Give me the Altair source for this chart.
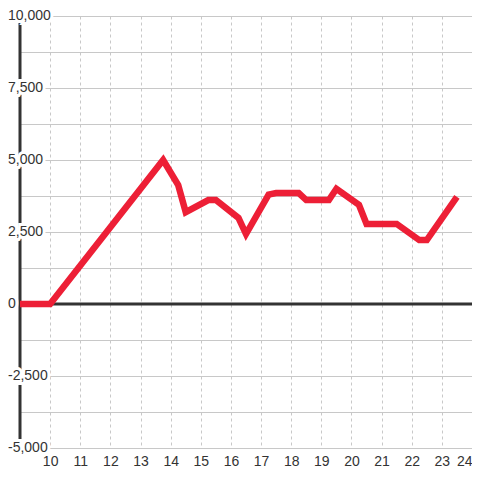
import altair as alt
import pandas as pd

# ---- data ----
hours = [9, 10, 13.75, 14.25, 14.5, 15.25, 15.5, 16.25, 16.5, 17.25, 17.5,
         18.25, 18.5, 19.25, 19.5, 20.25, 20.5, 21.5, 22.25, 22.5, 23.5]
values = [0, 0, 5000, 4130, 3190, 3610, 3610, 2990, 2430, 3800, 3850,
          3850, 3610, 3610, 4000, 3440, 2780, 2780, 2220, 2220, 3720]

x_ticks = list(range(10, 25))
y_grid = [-5000, -3750, -2500, -1250, 0, 1250, 2500, 3750, 5000,
          6250, 7500, 8750, 10000]
y_label_values = [10000, 7500, 5000, 2500, 0, -2500, -5000]
y_label_texts = ["10,000", "7,500", "5,000", "2,500", "0", "-2,500", "-5,000"]

RED = "#ed1f36"
DARK = "#333333"
GRID = "#c8c8c8"
FONT = "Liberation Sans"

df = pd.DataFrame({"t": hours, "v": values})
labels_df = pd.DataFrame({"v": y_label_values, "label": y_label_texts})

xs = alt.Scale(domain=[9, 24], nice=False, zero=False)
ys = alt.Scale(domain=[-5000, 10000], nice=False, zero=False)

x_axis = alt.Axis(values=x_ticks, grid=True, gridColor=GRID, gridDash=[3, 3],
                  gridWidth=1, domain=False, ticks=False, labelFontSize=14,
                  labelColor=DARK, labelFont=FONT, labelPadding=6, title=None,
                  labelFlush=True, labelOverlap=False)
y_axis = alt.Axis(values=y_grid, grid=True, gridColor=GRID, gridWidth=1,
                  domain=False, ticks=False, labels=False, title=None)

line = alt.Chart(df).mark_line(
    color=RED, strokeWidth=6.5, strokeJoin="miter", strokeCap="butt"
).encode(
    x=alt.X("t:Q", scale=xs, axis=x_axis),
    y=alt.Y("v:Q", scale=ys, axis=y_axis),
)

zero_rule = alt.Chart(pd.DataFrame({"v": [0]})).mark_rule(
    color=DARK, strokeWidth=3
).encode(y=alt.Y("v:Q", scale=ys, axis=y_axis))

yaxis_rule = alt.Chart(pd.DataFrame({"t": [9], "v": [-5000], "hi": [10000]})).mark_rule(
    color=DARK, strokeWidth=3
).encode(
    x=alt.X("t:Q", scale=xs, axis=x_axis),
    y=alt.Y("v:Q", scale=ys, axis=y_axis),
    y2="hi:Q",
)

label_bg = alt.Chart(labels_df).mark_text(
    align="left", baseline="middle", fontSize=14, font=FONT,
    fill="white", stroke="white", strokeWidth=6
).encode(
    x=alt.value(-12),
    y=alt.Y("v:Q", scale=ys, axis=y_axis),
    text="label:N",
)

label_fg = alt.Chart(labels_df).mark_text(
    align="left", baseline="middle", fontSize=14, font=FONT, color=DARK
).encode(
    x=alt.value(-12),
    y=alt.Y("v:Q", scale=ys, axis=y_axis),
    text="label:N",
)

chart = alt.layer(
    zero_rule, yaxis_rule, line, label_bg, label_fg
).properties(
    width=452,
    height=432,
    padding={"left": 12, "top": 8, "right": 0, "bottom": 24},
    autosize=alt.AutoSizeParams(type="none"),
    background="white",
).configure_view(stroke=None)

chart.save("out.html", embed_options={"renderer": "svg", "actions": False})
